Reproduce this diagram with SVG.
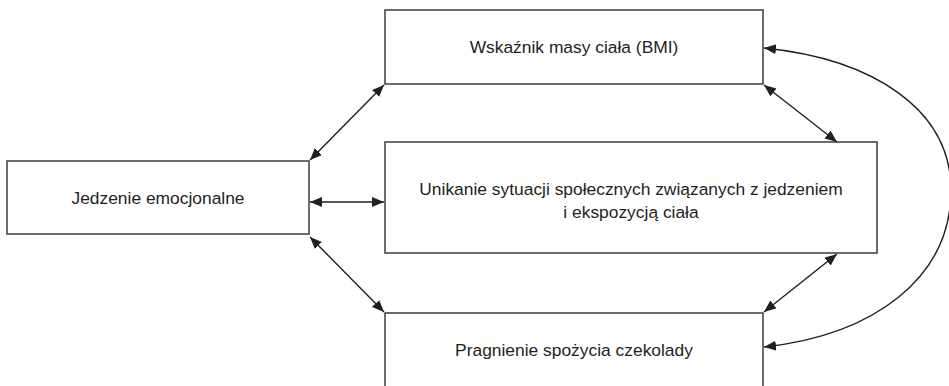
<svg xmlns="http://www.w3.org/2000/svg" width="949" height="386" viewBox="0 0 949 386">
  <style>
    .box { fill: #ffffff; stroke: #3c3c3c; stroke-width: 1.5; }
    .lbl { font-family: "Liberation Sans", Arial, sans-serif; font-size: 17.4px; fill: #231f20; text-anchor: middle; }
    .link { fill: none; stroke: #231f20; stroke-width: 1.4; marker-start: url(#head); marker-end: url(#head); }
  </style>
  <defs>
    <marker id="head" markerUnits="userSpaceOnUse" markerWidth="14" markerHeight="12" refX="12" refY="5" orient="auto-start-reverse" viewBox="0 0 14 12">
      <path d="M0,0 L12,5 L0,10 z" fill="#231f20"/>
    </marker>
  </defs>
  <rect width="949" height="386" fill="#ffffff"/>

  <g id="node-bmi">
    <rect class="box" x="385" y="10" width="378" height="74"/>
    <text class="lbl" x="574" y="53">Wskaźnik masy ciała (BMI)</text>
  </g>

  <g id="node-emotional-eating">
    <rect class="box" x="7" y="161" width="302" height="73"/>
    <text class="lbl" x="158" y="204">Jedzenie emocjonalne</text>
  </g>

  <g id="node-avoidance">
    <rect class="box" x="385" y="142" width="492" height="111"/>
    <text class="lbl" x="631" y="195">Unikanie sytuacji społecznych związanych z jedzeniem</text>
    <text class="lbl" x="631" y="218">i ekspozycją ciała</text>
  </g>

  <g id="node-chocolate">
    <rect class="box" x="385" y="313" width="378" height="80"/>
    <text class="lbl" x="574" y="356">Pragnienie spożycia czekolady</text>
  </g>

  <g id="connectors">
    <line class="link" x1="310" y1="160" x2="384" y2="85"/>
    <line class="link" x1="310" y1="202" x2="384" y2="202"/>
    <line class="link" x1="310" y1="237" x2="384" y2="312"/>
    <line class="link" x1="764" y1="85" x2="837" y2="142"/>
    <line class="link" x1="837" y1="254" x2="764" y2="312"/>
    <path class="link" d="M764,48 C874,59 951,110 951,190 C951,278 874,335 764,347"/>
  </g>
</svg>
